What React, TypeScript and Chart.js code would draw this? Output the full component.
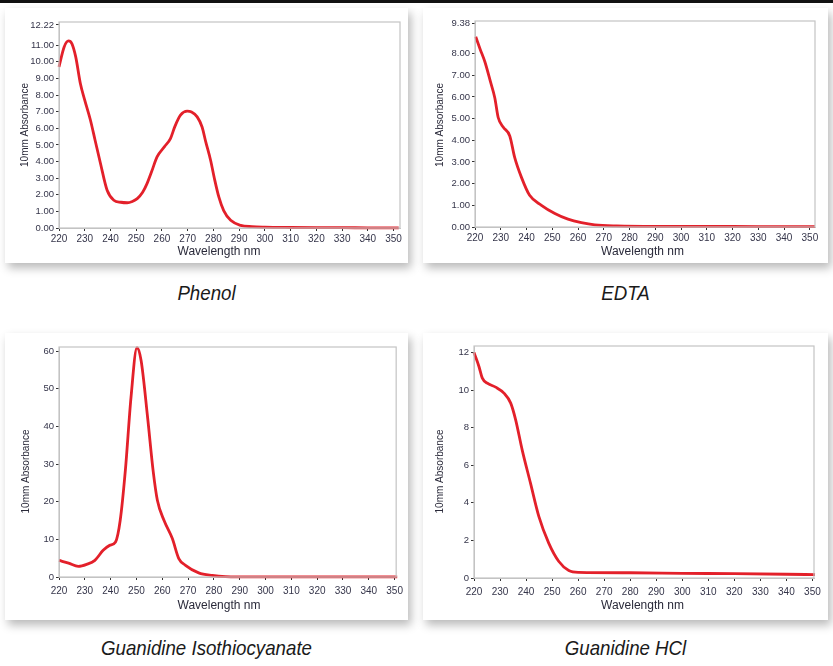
import React, { useEffect, useRef } from "react";
import { Chart, registerables } from "chart.js";

Chart.register(...registerables);

// ---------- Data ----------
const phenolNm = [220, 222, 223.7, 225, 226.5, 228.3, 230, 232.2, 234, 236.1, 238.7, 241.3, 244, 246.5, 248.5, 250.4, 252.5, 254.2, 256, 258.1, 261, 263.3, 265, 267.2, 269.8, 271.5, 273.7, 275.6, 277, 278.9, 280.5, 282.1, 284, 286.7, 290.6, 295, 300, 310, 320, 330, 340, 352];
const phenolAbs = [9.7, 10.9, 11.26, 11.1, 10.3, 8.7, 7.7, 6.5, 5.3, 3.9, 2.27, 1.67, 1.55, 1.52, 1.6, 1.77, 2.15, 2.67, 3.4, 4.28, 4.9, 5.38, 6.1, 6.79, 7.03, 6.98, 6.69, 6.08, 5.2, 4.08, 2.9, 1.87, 1.05, 0.46, 0.16, 0.08, 0.05, 0.03, 0.02, 0.02, 0.01, 0.01];

const edtaNm = [220.3, 222, 223.8, 226, 227.7, 229, 231, 233.5, 235.4, 238, 241.2, 245.8, 251, 256.1, 261.3, 266.5, 275, 290, 310, 330, 352];
const edtaAbs = [8.77, 8.2, 7.63, 6.7, 5.95, 5.05, 4.6, 4.2, 3.21, 2.3, 1.46, 1.0, 0.62, 0.36, 0.2, 0.1, 0.05, 0.03, 0.03, 0.02, 0.02];

const gitcNm = [220, 223.7, 227.5, 230.7, 233.9, 237.1, 239.6, 241.9, 243.7, 245.7, 247.9, 250.2, 251.8, 254.3, 256.5, 258.1, 260.7, 263.9, 266.4, 269, 274.1, 279.4, 284.5, 290, 351];
const gitcAbs = [4.4, 3.7, 2.84, 3.37, 4.43, 7.08, 8.4, 9.3, 15, 28.3, 47.8, 60.9, 57.5, 42.5, 28, 20.4, 15, 10.2, 4.9, 3.1, 1.1, 0.4, 0.1, 0.05, 0.02];

const guhclNm = [220, 221.9, 223.2, 225.1, 228.3, 231.5, 234.1, 236, 238.5, 241.7, 244.9, 248.7, 252.6, 256.4, 260.2, 280, 300, 320, 340, 351];
const guhclAbs = [12.0, 11.26, 10.64, 10.37, 10.16, 9.84, 9.31, 8.42, 6.82, 5.05, 3.28, 1.86, 0.88, 0.4, 0.3, 0.28, 0.25, 0.23, 0.2, 0.18];

const xTickValues = [220, 230, 240, 250, 260, 270, 280, 290, 300, 310, 320, 330, 340, 350];
const phenolYTicks = [0, 1, 2, 3, 4, 5, 6, 7, 8, 9, 10, 11, 12.22];
const edtaYTicks = [0, 1, 2, 3, 4, 5, 6, 7, 8, 9.38];
const gitcYTicks = [0, 10, 20, 30, 40, 50, 60];
const guhclYTicks = [0, 2, 4, 6, 8, 10, 12];

const captions = ["Phenol", "EDTA", "Guanidine Isothiocyanate", "Guanidine HCl"];

const xAxisTitle = "Wavelength nm";
const yAxisTitle = "10mm Absorbance";

// ---------- Layout ----------
type PanelCfg = {
  box: { left: number; top: number; width: number; height: number };
  plot: { left: number; top: number; right: number; bottom: number };
  nm: number[];
  abs: number[];
  yTicks: number[];
  yMax: number;
  xMax: number;
  decimals: number;
  caption: string;
  captionY: number;
  tickPad: number;
  xTitleX: number; // absolute centre x of x-axis title
  xTitleY: number; // absolute centre y of x-axis title
  yTitleX: number;
  yTitleY: number;
};

const panels: PanelCfg[] = [
  {
    box: { left: 5, top: 8, width: 403, height: 255 },
    plot: { left: 59, top: 22, right: 400, bottom: 228 },
    nm: phenolNm, abs: phenolAbs, yTicks: phenolYTicks, yMax: 12.4, xMax: 352.5, decimals: 2,
    caption: captions[0], captionY: 293, tickPad: 2,
    xTitleX: 219, xTitleY: 251.5, yTitleX: 25, yTitleY: 125,
  },
  {
    box: { left: 423, top: 8, width: 405, height: 255 },
    plot: { left: 475, top: 21, right: 815, bottom: 227 },
    nm: edtaNm, abs: edtaAbs, yTicks: edtaYTicks, yMax: 9.5, xMax: 352, decimals: 2,
    caption: captions[1], captionY: 293, tickPad: 2,
    xTitleX: 642.5, xTitleY: 251.5, yTitleX: 440, yTitleY: 125,
  },
  {
    box: { left: 5, top: 333, width: 403, height: 287 },
    plot: { left: 59, top: 347, right: 400, bottom: 577 },
    nm: gitcNm, abs: gitcAbs, yTicks: gitcYTicks, yMax: 61.1, xMax: 350.6, decimals: 0,
    caption: captions[2], captionY: 648, tickPad: 5,
    xTitleX: 219, xTitleY: 606, yTitleX: 26, yTitleY: 471.5,
  },
  {
    box: { left: 423, top: 333, width: 405, height: 287 },
    plot: { left: 474, top: 346, right: 814, bottom: 578 },
    nm: guhclNm, abs: guhclAbs, yTicks: guhclYTicks, yMax: 12.35, xMax: 350.6, decimals: 0,
    caption: captions[3], captionY: 648, tickPad: 5,
    xTitleX: 642.5, xTitleY: 606, yTitleX: 440, yTitleY: 471.5,
  },
];

const FONT = "'Liberation Sans', Arial, sans-serif";
const tickColor = "#35354a";
const titleColor = "#2a2a3a";

function Panel({ cfg }: { cfg: PanelCfg }) {
  const ref = useRef<HTMLCanvasElement | null>(null);
  useEffect(() => {
    if (!ref.current) return;
    const yW = cfg.plot.left - cfg.box.left;
    const xH = cfg.box.top + cfg.box.height - cfg.plot.bottom;

    const framePlugin = {
      id: "frameAndTitles",
      afterDraw(chart: any) {
        const { ctx, chartArea } = chart;
        ctx.save();
        ctx.strokeStyle = "#c4c4c4";
        ctx.lineWidth = 1.2;
        ctx.strokeRect(chartArea.left, chartArea.top, chartArea.right - chartArea.left, chartArea.bottom - chartArea.top);
        ctx.fillStyle = titleColor;
        ctx.textAlign = "center";
        ctx.textBaseline = "middle";
        ctx.font = `12px ${FONT}`;
        ctx.fillText(xAxisTitle, cfg.xTitleX - cfg.box.left, cfg.xTitleY - cfg.box.top);
        ctx.translate(cfg.yTitleX - cfg.box.left, cfg.yTitleY - cfg.box.top);
        ctx.rotate(-Math.PI / 2);
        ctx.font = `10px ${FONT}`;
        ctx.fillText(yAxisTitle, 0, 0);
        ctx.restore();
      },
    };

    const chart = new Chart(ref.current, {
      type: "line",
      data: {
        datasets: [
          {
            data: cfg.nm.map((x, i) => ({ x, y: cfg.abs[i] })),
            borderColor: "#e3202a",
            borderWidth: 2.8,
            pointRadius: 0,
            cubicInterpolationMode: "monotone",
            fill: false,
            clip: 3,
          } as any,
        ],
      },
      options: {
        animation: false,
        responsive: false,
        maintainAspectRatio: false,
        devicePixelRatio: 1,
        layout: {
          padding: {
            left: 0,
            top: cfg.plot.top - cfg.box.top,
            right: cfg.box.left + cfg.box.width - cfg.plot.right,
            bottom: 0,
          },
        },
        plugins: { legend: { display: false }, tooltip: { enabled: false }, title: { display: false } },
        scales: {
          x: {
            type: "linear",
            min: 220,
            max: cfg.xMax,
            afterBuildTicks: (s: any) => {
              s.ticks = xTickValues.map((v) => ({ value: v }));
            },
            afterFit: (s: any) => {
              s.height = xH;
            },
            grid: { display: true, drawOnChartArea: false, drawTicks: true, tickLength: 3, color: "#333", lineWidth: 1 },
            border: { display: true, color: "#c4c4c4", width: 1 },
            ticks: {
              color: tickColor,
              font: { family: FONT, size: 10 },
              padding: cfg.tickPad,
              maxRotation: 0,
              autoSkip: false,
              callback: (v: any) => String(v),
            },
            title: { display: false },
          },
          y: {
            type: "linear",
            min: 0,
            max: cfg.yMax,
            afterBuildTicks: (s: any) => {
              s.ticks = cfg.yTicks.map((v) => ({ value: v }));
            },
            afterFit: (s: any) => {
              s.width = yW;
            },
            grid: { display: true, drawOnChartArea: false, drawTicks: true, tickLength: 3, color: "#333", lineWidth: 1 },
            border: { display: true, color: "#c4c4c4", width: 1 },
            ticks: {
              color: tickColor,
              font: { family: FONT, size: 9.5 },
              padding: 2,
              autoSkip: false,
              callback: (v: any) => Number(v).toFixed(cfg.decimals),
            },
            title: { display: false },
          },
        },
      } as any,
      plugins: [framePlugin],
    });
    return () => chart.destroy();
  }, [cfg]);

  return (
    <>
      <div
        style={{
          position: "absolute",
          left: cfg.box.left,
          top: cfg.box.top,
          width: cfg.box.width,
          height: cfg.box.height,
          background: "#fff",
          boxShadow: "3px 5px 9px rgba(0,0,0,0.28)",
        }}
      >
        <canvas ref={ref} width={cfg.box.width} height={cfg.box.height} style={{ display: "block" }} />
      </div>
      <div
        style={{
          position: "absolute",
          left: cfg.box.left,
          width: cfg.box.width,
          top: cfg.captionY - 13,
          height: 26,
          lineHeight: "26px",
          textAlign: "center",
          fontFamily: FONT,
          fontStyle: "italic",
          fontSize: 21,
          color: "#1a1a1a",
          transform: "scaleX(0.89)",
          transformOrigin: "center center",
        }}
      >
        {cfg.caption}
      </div>
    </>
  );
}

export default function App() {
  return (
    <div
      style={{
        position: "fixed",
        left: 0,
        top: 0,
        width: 833,
        height: 666,
        background: "#fff",
        overflow: "hidden",
      }}
    >
      <div style={{ position: "absolute", left: 0, top: 0, width: 833, height: 3, background: "#111" }} />
      {panels.map((p, i) => (
        <Panel key={i} cfg={p} />
      ))}
    </div>
  );
}
